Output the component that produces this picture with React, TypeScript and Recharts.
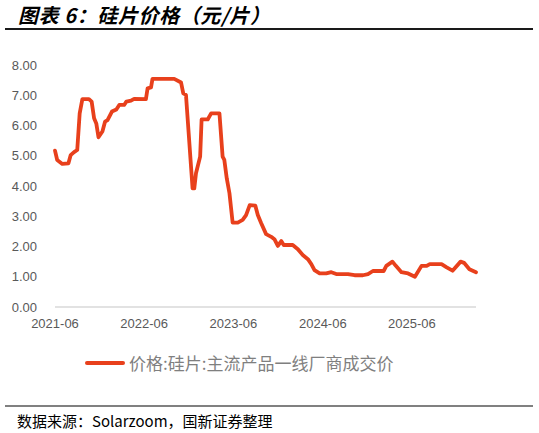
import { LineChart, Line, XAxis, YAxis } from "recharts"

const dates = [
  "2021-06-01", "2021-06-10", "2021-07-01", "2021-07-26", "2021-08-04", "2021-08-18",
  "2021-08-31", "2021-09-10", "2021-09-21", "2021-10-18", "2021-10-29", "2021-11-08",
  "2021-11-17", "2021-11-26", "2021-12-12", "2021-12-23", "2022-01-02", "2022-01-20",
  "2022-02-07", "2022-02-19", "2022-03-11", "2022-03-20", "2022-04-08", "2022-04-21",
  "2022-06-08", "2022-06-15", "2022-06-29", "2022-07-05", "2022-10-02", "2022-10-30",
  "2022-11-08", "2022-11-19", "2022-12-03", "2022-12-16", "2022-12-23", "2022-12-30",
  "2023-01-16", "2023-01-22", "2023-02-16", "2023-03-02", "2023-04-05", "2023-04-18",
  "2023-04-25", "2023-05-05", "2023-05-16", "2023-05-29", "2023-06-19", "2023-07-09",
  "2023-07-23", "2023-08-07", "2023-08-30", "2023-09-09", "2023-09-23", "2023-10-13",
  "2023-11-03", "2023-11-16", "2023-11-30", "2023-12-14", "2023-12-24", "2024-01-30",
  "2024-02-20", "2024-03-11", "2024-04-01", "2024-04-15", "2024-04-28", "2024-05-19",
  "2024-06-15", "2024-07-06", "2024-07-26", "2024-09-12", "2024-10-09", "2024-11-12",
  "2024-12-03", "2024-12-23", "2025-02-05", "2025-02-16", "2025-03-13", "2025-03-27",
  "2025-04-19", "2025-05-16", "2025-06-13", "2025-07-10", "2025-07-31", "2025-08-13",
  "2025-09-30", "2025-10-21", "2025-11-14", "2025-12-17", "2025-12-31", "2026-01-22",
  "2026-02-18",
]

const prices = [
  5.17, 4.86, 4.73, 4.75, 5.02, 5.12,
  5.19, 6.4, 6.87, 6.87, 6.79, 6.24,
  6.07, 5.61, 5.8, 6.13, 6.18, 6.46,
  6.53, 6.68, 6.68, 6.79, 6.82, 6.88,
  6.87, 7.23, 7.26, 7.54, 7.54, 7.42,
  7.06, 7.01, 5.41, 3.92, 3.92, 4.42,
  4.97, 6.2, 6.2, 6.4, 6.4, 4.97,
  4.86, 4.25, 3.76, 2.79, 2.79, 2.88,
  3.04, 3.37, 3.35, 3.04, 2.77, 2.41,
  2.32, 2.24, 2.02, 2.18, 2.05, 2.05,
  1.91, 1.72, 1.58, 1.42, 1.22, 1.11,
  1.11, 1.15, 1.09, 1.09, 1.05, 1.05,
  1.09, 1.19, 1.19, 1.36, 1.5, 1.36,
  1.15, 1.11, 1.0, 1.36, 1.36, 1.42,
  1.42, 1.31, 1.2, 1.5, 1.46, 1.25,
  1.15,
]

const xTickDates = ["2021-06-01", "2022-06-01", "2023-06-01", "2024-06-01", "2025-06-01"]
const yTicks = [0, 1, 2, 3, 4, 5, 6, 7, 8]

const title = "图表 6：硅片价格（元/片）"
const seriesName = "价格:硅片:主流产品一线厂商成交价"
const sourceText = "数据来源：Solarzoom，国新证券整理"

const data = dates.map((d, i) => ({ t: Date.parse(d), price: prices[i] }))
const xTicks = xTickDates.map((d) => Date.parse(d))

const LINE_COLOR = "#e8401c"
const TICK_STYLE = { fill: "#595959", fontSize: 13, fontFamily: "'Liberation Sans', Arial, sans-serif" }

const fmtMonth = (v: number) => {
  const d = new Date(v)
  return `${d.getUTCFullYear()}-${String(d.getUTCMonth() + 1).padStart(2, "0")}`
}

export default function App() {
  return (
    <div
      style={{
        position: "absolute",
        left: 0,
        top: 0,
        width: 539,
        height: 433,
        background: "#fff",
        fontFamily: "'Noto Sans CJK SC', sans-serif",
      }}
    >
      <div
        style={{
          position: "absolute",
          left: 18,
          top: 2,
          fontSize: 20,
          fontWeight: 700,
          fontStyle: "italic",
          letterSpacing: 0.6,
          color: "#000",
          lineHeight: "25px",
          whiteSpace: "nowrap",
        }}
      >
        {title}
      </div>
      <div style={{ position: "absolute", left: 5, top: 28, width: 528, height: 2, background: "#1a1a1a" }} />

      <div style={{ position: "absolute", left: 0, top: 0 }}>
        <LineChart width={539} height={340} data={data} margin={{ top: 65, right: 63, bottom: 0, left: 0 }}>
          <XAxis
            dataKey="t"
            type="number"
            scale="time"
            domain={[data[0].t, data[data.length - 1].t]}
            ticks={xTicks}
            tickFormatter={fmtMonth}
            axisLine={{ stroke: "#d9d9d9", strokeWidth: 1.5 }}
            tickLine={false}
            tickSize={0}
            tickMargin={12}
            height={33}
            tick={TICK_STYLE}
            interval={0}
          />
          <YAxis
            domain={[0, 8]}
            ticks={yTicks}
            tickFormatter={(v: number) => v.toFixed(2)}
            axisLine={false}
            tickLine={false}
            tickSize={0}
            tickMargin={18}
            width={55}
            tick={TICK_STYLE}
            interval={0}
          />
          <Line
            type="linear"
            dataKey="price"
            stroke={LINE_COLOR}
            strokeWidth={3.8}
            strokeLinejoin="round"
            strokeLinecap="round"
            dot={false}
            isAnimationActive={false}
          />
        </LineChart>
      </div>

      <div style={{ position: "absolute", left: 85, top: 351, display: "flex", alignItems: "center", whiteSpace: "nowrap" }}>
        <div style={{ width: 40, height: 4, borderRadius: 2, background: LINE_COLOR, marginRight: 4 }} />
        <span style={{ fontSize: 17, color: "#7f7f7f", lineHeight: "24px" }}>{seriesName}</span>
      </div>

      <div style={{ position: "absolute", left: 5, top: 405, width: 528, height: 2, background: "#808080" }} />
      <div
        style={{
          position: "absolute",
          left: 17,
          top: 411,
          fontSize: 15,
          color: "#000",
          lineHeight: "20px",
          whiteSpace: "nowrap",
        }}
      >
        {sourceText}
      </div>
    </div>
  )
}
